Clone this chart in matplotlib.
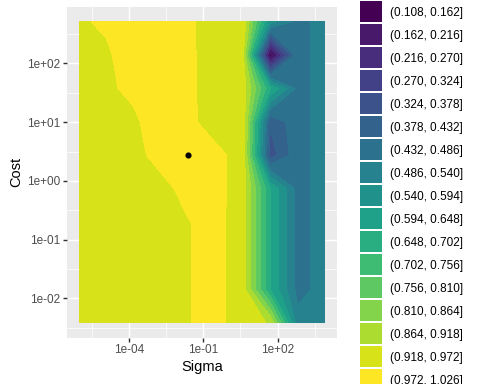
import numpy as np
import matplotlib
matplotlib.use("Agg")
import matplotlib.pyplot as plt
from matplotlib.patches import Rectangle

plt.rcParams['font.family'] = ['Liberation Sans', 'DejaVu Sans']

# grid of tuning parameters
sigma = [9.54e-07, 1.211e-05, 1.538e-04, 1.953e-03, 2.480e-02,
         3.150e-01, 4.0, 50.8, 645.1, 8192.0]
cost = [0.003906, 0.01447, 0.05358, 0.1984, 0.7349,
        2.722, 10.08, 37.33, 138.3, 512.0]

# accuracy, rows = cost (low -> high), cols = sigma (low -> high)
accuracy = [
    [0.950, 0.950, 0.950, 0.955, 0.970, 0.990, 0.942, 0.913, 0.505, 0.505],
    [0.950, 0.950, 0.950, 0.955, 0.970, 0.990, 0.942, 0.648, 0.468, 0.505],
    [0.950, 0.950, 0.950, 0.955, 0.970, 0.990, 0.942, 0.648, 0.468, 0.505],
    [0.950, 0.950, 0.950, 0.955, 0.970, 0.990, 0.942, 0.648, 0.468, 0.505],
    [0.950, 0.950, 0.955, 0.956, 0.989, 0.985, 0.951, 0.648, 0.468, 0.505],
    [0.950, 0.955, 0.956, 0.990, 0.997, 0.988, 0.949, 0.350, 0.468, 0.505],
    [0.950, 0.955, 0.965, 0.995, 0.985, 0.946, 0.950, 0.385, 0.468, 0.505],
    [0.950, 0.966, 0.980, 0.990, 0.985, 0.942, 0.950, 0.650, 0.468, 0.505],
    [0.950, 0.967, 0.990, 0.990, 0.985, 0.939, 0.930, 0.130, 0.468, 0.505],
    [0.968, 0.977, 0.985, 0.985, 0.985, 0.937, 0.955, 0.560, 0.468, 0.505],
]

best_sigma = [2.480e-02]
best_cost = [2.722]

levels = [0.108, 0.162, 0.216, 0.270, 0.324, 0.378, 0.432, 0.486, 0.540,
          0.594, 0.648, 0.702, 0.756, 0.810, 0.864, 0.918, 0.972, 1.026]

x_ticks = [1e-4, 1e-1, 1e2]
x_tick_labels = ["1e-04", "1e-01", "1e+02"]
y_ticks = [1e-2, 1e-1, 1e0, 1e1, 1e2]
y_tick_labels = ["1e-02", "1e-01", "1e+00", "1e+01", "1e+02"]

W, H, DPI = 480, 384, 96
fig = plt.figure(figsize=(W / DPI, H / DPI), dpi=DPI)

nb = len(levels) - 1
cols = [plt.cm.viridis(i / (nb - 1)) for i in range(nb)]

# panel (pixel positions)
pl, pr, pt, pb = 66.7, 337.3, 6.7, 337.5
ax = fig.add_axes([pl / W, 1 - pb / H, (pr - pl) / W, (pb - pt) / H])
ax.set_facecolor('#EBEBEB')

lx = np.log10(sigma)
ly = np.log10(cost)
ax.contourf(lx, ly, np.array(accuracy), levels=levels, colors=cols,
            antialiased=False, zorder=2)
ax.plot(np.log10(best_sigma), np.log10(best_cost), 'o', color='black',
        markersize=3.6, zorder=3)

xr = lx.max() - lx.min()
yr = ly.max() - ly.min()
ax.set_xlim(lx.min() - 0.05 * xr, lx.max() + 0.05 * xr)
ax.set_ylim(ly.min() - 0.05 * yr, ly.max() + 0.05 * yr)

xt = np.log10(x_ticks)
yt = np.log10(y_ticks)
ax.set_xticks(xt)
ax.set_xticklabels(x_tick_labels)
ax.set_yticks(yt)
ax.set_yticklabels(y_tick_labels)
ax.set_xticks(list(xt - 1.5) + [xt[-1] + 1.5], minor=True)
ax.set_yticks(list(yt - 0.5) + [yt[-1] + 0.5], minor=True)
ax.grid(which='major', color='white', linewidth=1.07, zorder=1)
ax.grid(which='minor', color='white', linewidth=0.53, zorder=1)
ax.set_axisbelow(True)
ax.tick_params(which='major', length=2.75, width=1.07, color='#333333',
               labelsize=8.8, labelcolor='#4D4D4D', pad=2.2)
ax.tick_params(which='minor', length=0)
for s in ax.spines.values():
    s.set_visible(False)
ax.set_xlabel('Sigma', fontsize=11, color='black', labelpad=2.75)
ax.set_ylabel('Cost', fontsize=11, color='black', labelpad=2.75)

# legend drawn in pixel coordinates
lg = fig.add_axes([0, 0, 1, 1], facecolor='none')
lg.set_xlim(0, W)
lg.set_ylim(H, 0)
lg.axis('off')
key_x, key_w, key_h, pitch, top0 = 360, 22, 21.3, 23.0, 0.7
for i in range(nb):
    y0 = top0 + pitch * i
    lg.add_patch(Rectangle((key_x, y0), key_w, key_h, facecolor=cols[i],
                           edgecolor='none'))
    lg.text(390, y0 + key_h / 2 + 1.6,
            f"({levels[i]:.3f}, {levels[i + 1]:.3f}]",
            fontsize=8.8, color='black', va='center', ha='left')

fig.savefig('out.png', dpi=DPI)
